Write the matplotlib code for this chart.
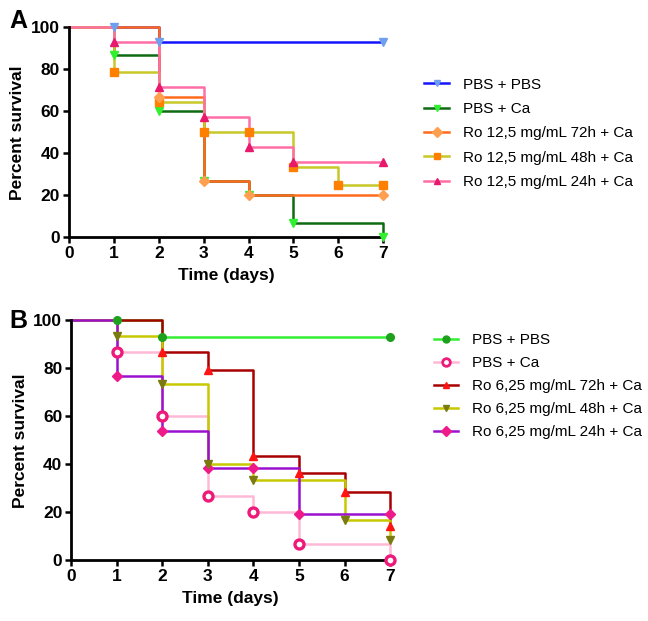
import numpy as np
import matplotlib
matplotlib.use("Agg")
import matplotlib.pyplot as plt

plt.rcParams['font.family'] = ['Liberation Sans', 'DejaVu Sans']

# ---------------- data: panel A (Ro 12,5 mg/mL) ----------------
a_labels = ["PBS + PBS", "PBS + Ca", "Ro 12,5 mg/mL 72h + Ca",
            "Ro 12,5 mg/mL 48h + Ca", "Ro 12,5 mg/mL 24h + Ca"]
a_days = [
    [0, 1, 2, 7],
    [0, 1, 2, 3, 4, 5, 7],
    [0, 2, 3, 4, 7],
    [0, 1, 2, 3, 4, 5, 6, 7],
    [0, 1, 2, 3, 4, 5, 7],
]
a_surv = [
    [100, 100, 92.9, 92.9],
    [100, 86.7, 60, 26.7, 20, 6.7, 0],
    [100, 66.7, 26.7, 20, 20],
    [100, 78.6, 64.3, 50, 50, 33.3, 25, 25],
    [100, 92.9, 71.4, 57.1, 42.9, 35.7, 35.7],
]
a_line_colors = ["#1414ff", "#0e6b12", "#ff6a1c", "#c8c828", "#ff6fa6"]
a_mark_colors = ["#6fa0f0", "#30f030", "#ffa050", "#ff8000", "#e8186c"]
a_markers = ["v", "v", "D", "s", "^"]
a_order = [0, 1, 3, 4, 2]

# ---------------- data: panel B (Ro 6,25 mg/mL) ----------------
b_labels = ["PBS + PBS", "PBS + Ca", "Ro 6,25 mg/mL 72h + Ca",
            "Ro 6,25 mg/mL 48h + Ca", "Ro 6,25 mg/mL 24h + Ca"]
b_days = [
    [0, 1, 2, 7],
    [0, 1, 2, 3, 4, 5, 7],
    [0, 2, 3, 4, 5, 6, 7],
    [0, 1, 2, 3, 4, 6, 7],
    [0, 1, 2, 3, 4, 5, 7],
]
b_surv = [
    [100, 100, 92.9, 92.9],
    [100, 86.7, 60, 26.7, 20, 6.7, 0],
    [100, 86.7, 79.5, 43.4, 36.2, 28.5, 14.2],
    [100, 93.3, 73.3, 40, 33.3, 16.7, 8.3],
    [100, 76.9, 53.8, 38.5, 38.5, 19.2, 19.2],
]
b_line_colors = ["#33ee33", "#ffb8d6", "#a80000", "#c8c800", "#9a10d0"]
b_mark_colors = ["#1ea01e", "#ee1a7a", "#ff1414", "#7a7a10", "#ee1a8a"]
b_markers = ["o", "o", "^", "v", "D"]
b_order = [0, 4, 3, 2, 1]


def survival_panel(ax, days, surv, labels, lcols, mcols, markers, order, hollow=()):
    handles = [None] * len(labels)
    for i in order:
        d = np.array(days[i], dtype=float)
        s = np.array(surv[i], dtype=float)
        ax.step(d, s, where="post", color=lcols[i], lw=1.8, zorder=2 + i * 0.1,
                clip_on=False)
        ms = 5.5 if markers[i] != "D" else 5
        if i in hollow:
            ax.plot(d[1:], s[1:], ls="none", marker=markers[i], ms=6.5,
                    mfc="white", mec=mcols[i], mew=2.4, zorder=5, clip_on=False)
        else:
            ax.plot(d[1:], s[1:], ls="none", marker=markers[i], ms=ms,
                    mfc=mcols[i], mec=mcols[i], zorder=5, clip_on=False)
        h, = ax.plot([], [], color=lcols[i], lw=1.8, marker=markers[i],
                     ms=5 if i not in hollow else 5.5,
                     mfc="white" if i in hollow else mcols[i],
                     mec=mcols[i], mew=2.0 if i in hollow else 1.0)
        handles[i] = h
    ax.set_xlim(0, 7)
    ax.set_ylim(0, 100)
    ax.set_xticks(range(8))
    ax.set_yticks([0, 20, 40, 60, 80, 100])
    for sp in ["top", "right"]:
        ax.spines[sp].set_visible(False)
    for sp in ["left", "bottom"]:
        ax.spines[sp].set_linewidth(2.0)
    ax.tick_params(width=1.8, length=4.5, pad=2, labelsize=12.5)
    for lab in ax.get_xticklabels() + ax.get_yticklabels():
        lab.set_fontweight("bold")
    ax.set_xlabel("Time (days)", fontsize=12.5, fontweight="bold", labelpad=5)
    ax.set_ylabel("Percent survival", fontsize=12.5, fontweight="bold", labelpad=4)
    ax.patch.set_alpha(0)
    return handles


fig = plt.figure(figsize=(6.48, 6.21), dpi=100)

axA = fig.add_axes([0.1065, 0.618, 0.485, 0.338])
hA = survival_panel(axA, a_days, a_surv, a_labels, a_line_colors, a_mark_colors,
                    a_markers, a_order)
fig.legend(hA, a_labels, loc="upper left", bbox_to_anchor=(0.655, 0.875),
           frameon=False, fontsize=11, handlelength=1.6, handletextpad=0.9,
           labelspacing=0.68, borderpad=0, borderaxespad=0)

axB = fig.add_axes([0.110, 0.098, 0.492, 0.386])
hB = survival_panel(axB, b_days, b_surv, b_labels, b_line_colors, b_mark_colors,
                    b_markers, b_order, hollow=(1,))
fig.legend(hB, b_labels, loc="upper left", bbox_to_anchor=(0.669, 0.463),
           frameon=False, fontsize=11, handlelength=1.6, handletextpad=0.9,
           labelspacing=0.58, borderpad=0, borderaxespad=0)

fig.text(0.015, 0.985, "A", fontsize=18, fontweight="bold", va="top", ha="left")
fig.text(0.015, 0.503, "B", fontsize=18, fontweight="bold", va="top", ha="left")

fig.savefig("out.png", dpi=100)
